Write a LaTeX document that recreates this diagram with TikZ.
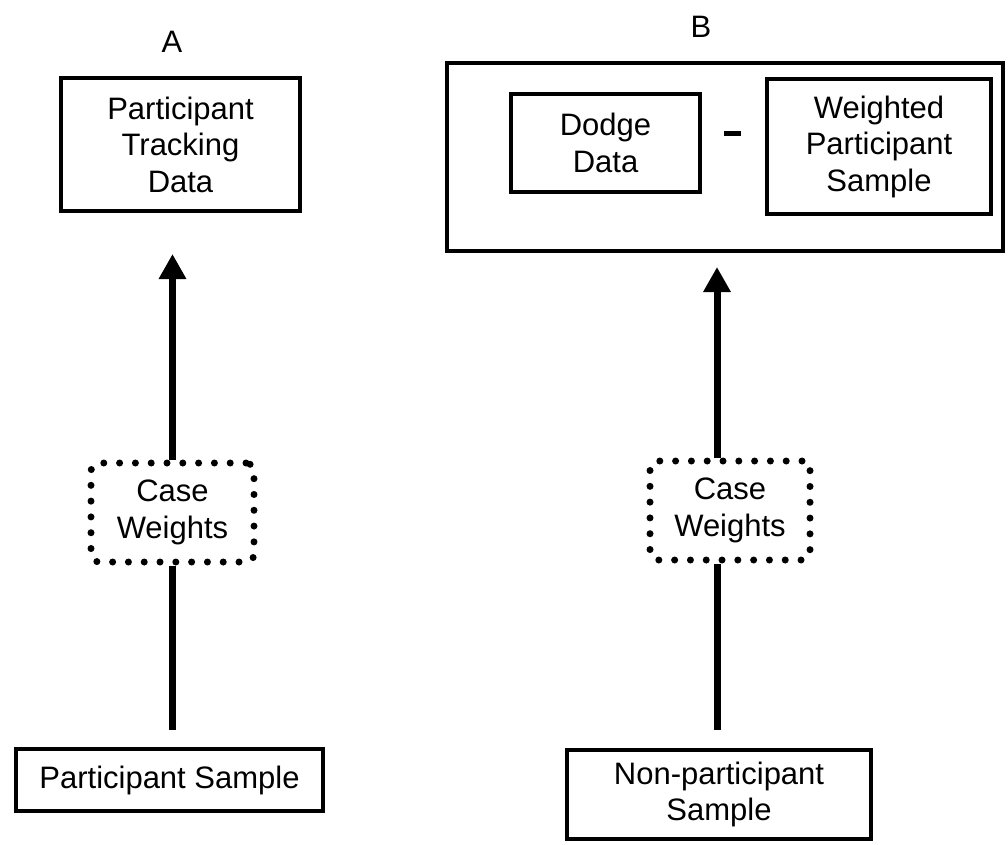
\documentclass[tikz,border=0pt]{standalone}
\usepackage{fontspec}
\setmainfont{Liberation Sans}
\usetikzlibrary{arrows.meta}
\begin{document}
\begin{tikzpicture}[x=1pt,y=-1pt,
  txt/.style={font=\fontsize{31}{36.5}\selectfont},
  box/.style={txt, draw, line width=4pt, inner sep=0pt, align=center},
  dotbox/.style={txt, draw, line width=7pt, line cap=round, dash pattern=on 0pt off 15.8pt, rounded corners=8pt, inner sep=0pt, align=center},
  conn/.style={line width=7pt},
  arr/.style={line width=7pt, -{Triangle[width=26pt,length=25pt]}}
]
\useasboundingbox (0,0) rectangle (1008,844);
% labels
\node[txt] (labA) at (172,42) {A};
\node[txt] (labB) at (701,27) {B};
% panel A
\node[box, minimum width=239pt, minimum height=133pt] (trackA) at (180.5,144.5) {Participant\\Tracking\\Data};
\node[dotbox, minimum width=163pt, minimum height=99pt] (cwA) at (172.5,512.5) {Case\\Weights};
\node[box, minimum width=307pt, minimum height=62pt] (psA) at (169.5,780) {Participant Sample};
% panel B
\node[box, minimum width=556pt, minimum height=188pt] (outerB) at (725,157) {};
\node[box, minimum width=189pt, minimum height=98pt] (dodge) at (605.5,143) {Dodge\\Data};
\node[fill=black, minimum width=17pt, minimum height=5pt, inner sep=0pt] (minus) at (732.5,133) {};
\node[box, minimum width=224pt, minimum height=135pt] (weighted) at (879,146.5) {Weighted\\Participant\\Sample};
\node[dotbox, minimum width=160pt, minimum height=99pt] (cwB) at (730,510.5) {Case\\Weights};
\node[box, minimum width=304pt, minimum height=89pt] (npB) at (719,794.5) {Non-participant\\Sample};
% connectors A
\draw[arr, shorten >=41pt] (cwA.north) -- (cwA.north |- trackA.south);
\draw[conn, shorten >=17pt] (cwA.south) -- (cwA.south |- psA.north);
% connectors B
\coordinate (bTop) at ([xshift=-13pt]cwB.north);
\coordinate (bBot) at ([xshift=-13pt]cwB.south);
\draw[arr, shorten >=14pt] (bTop) -- (bTop |- outerB.south);
\draw[conn, shorten >=18pt] (bBot) -- (bBot |- npB.north);
\end{tikzpicture}
\end{document}
